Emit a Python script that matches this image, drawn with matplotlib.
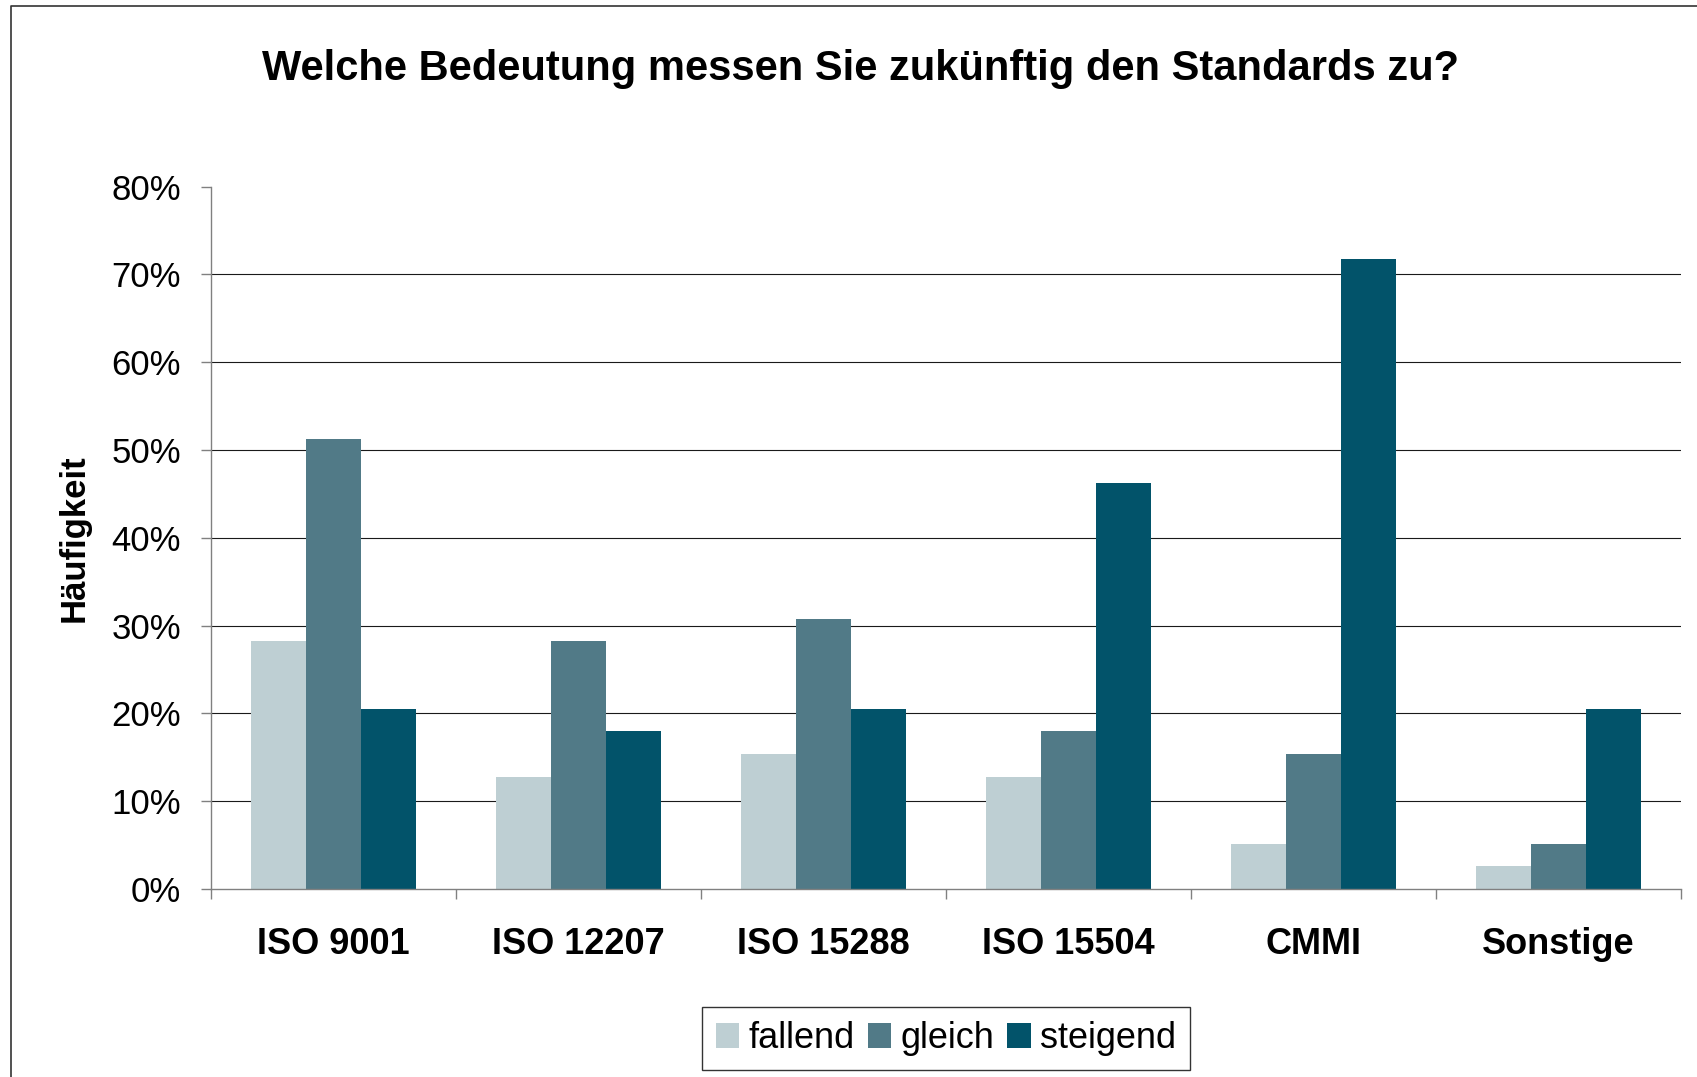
import matplotlib
matplotlib.use("Agg")
import matplotlib.pyplot as plt
import numpy as np
from matplotlib.lines import Line2D
from matplotlib.ticker import FixedLocator, PercentFormatter

plt.rcParams["font.family"] = ["Liberation Sans", "DejaVu Sans"]

categories = ["ISO 9001", "ISO 12207", "ISO 15288", "ISO 15504", "CMMI", "Sonstige"]
series = ["fallend", "gleich", "steigend"]
fallend = [28.2, 12.8, 15.4, 12.8, 5.1, 2.6]
gleich = [51.3, 28.2, 30.8, 18.0, 15.4, 5.1]
steigend = [20.5, 18.0, 20.5, 46.2, 71.8, 20.5]
colors = ["#BECFD3", "#517A87", "#02536A"]

W, H = 1697, 1077
fig = plt.figure(figsize=(W / 100, H / 100), dpi=100)
fig.patch.set_facecolor("white")

# plot area in pixels of the reference
left, right, top, bottom = 211, 1681, 186.6, 889
ax = fig.add_axes([left / W, 1 - bottom / H, (right - left) / W, (bottom - top) / H])

x = np.arange(len(categories))
bw = 0.2245
for i, (name, vals) in enumerate(zip(series, [fallend, gleich, steigend])):
    ax.bar(x + (i - 1) * bw, vals, width=bw, color=colors[i], label=name, zorder=3)

ax.set_xlim(-0.5, len(categories) - 0.5)
ax.set_ylim(0, 80)
ax.set_yticks(np.arange(0, 81, 10))
ax.yaxis.set_major_formatter(PercentFormatter(decimals=0))
ax.set_xticks(x)
ax.set_xticklabels(categories, fontsize=26, fontweight="bold")
ax.xaxis.set_minor_locator(FixedLocator(np.arange(-0.5, len(categories), 1.0)))

ax.tick_params(axis="x", which="major", length=0, pad=27)
ax.tick_params(axis="x", which="minor", length=7.5, width=1.0, color="#808080", direction="out")
ax.tick_params(axis="y", which="major", length=7.5, width=1.0, color="#808080",
               direction="out", labelsize=25, pad=14)
for lbl in ax.get_yticklabels():
    lbl.set_y(lbl.get_position()[1])

ax.yaxis.grid(True, color="#1a1a1a", linewidth=0.8, zorder=1)
ax.set_axisbelow(True)
gl = ax.get_ygridlines()
gl[-1].set_visible(False)
gl[0].set_visible(False)

for s in ["top", "right"]:
    ax.spines[s].set_visible(False)
for s in ["left", "bottom"]:
    ax.spines[s].set_color("#808080")
    ax.spines[s].set_linewidth(1.0)
    ax.spines[s].set_zorder(4)

ax.set_ylabel("Häufigkeit", fontsize=25, fontweight="bold")
ax.yaxis.set_label_coords(-0.082, 0.5)

fig.text(861 / W, 1 - 80 / H, "Welche Bedeutung messen Sie zukünftig den Standards zu?",
         ha="center", va="baseline", fontsize=30, fontweight="bold")

leg = fig.legend(loc="center", bbox_to_anchor=(946 / W, 1 - 1038.7 / H), ncol=3,
                 fontsize=26, frameon=True, fancybox=False, edgecolor="black",
                 handlelength=0.65, handleheight=0.65, handletextpad=0.26,
                 columnspacing=0.36, borderpad=0.38, borderaxespad=0)
leg.get_frame().set_linewidth(1.0)

# outer chart frame (left and top edges)
fig.add_artist(Line2D([11 / W, 11 / W, 1], [0, 1 - 6 / H, 1 - 6 / H],
                      transform=fig.transFigure, color="#333333", linewidth=1.2))

fig.savefig("out.png", dpi=100, facecolor="white")
